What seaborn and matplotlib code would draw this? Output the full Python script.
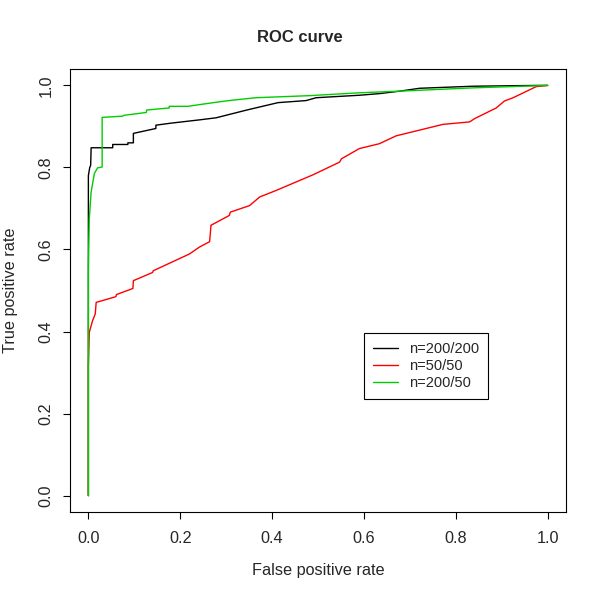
import pandas as pd
import seaborn as sns
import matplotlib.pyplot as plt

# ROC points
fpr_200_200 = [0, 0, 0.003, 0.005, 0.006, 0.053, 0.053, 0.086, 0.086, 0.098, 0.098, 0.147, 0.147,
               0.18, 0.242, 0.278, 0.345, 0.413, 0.474, 0.496, 0.590, 0.634, 0.678, 0.721, 0.837, 0.98, 1.0]
tpr_200_200 = [0, 0.78, 0.80, 0.805, 0.848, 0.848, 0.856, 0.856, 0.860, 0.860, 0.883, 0.895, 0.903,
               0.908, 0.916, 0.921, 0.940, 0.958, 0.963, 0.970, 0.976, 0.980, 0.986, 0.993, 0.998, 1.0, 1.0]

fpr_50_50 = [0, 0, 0.002, 0.009, 0.015, 0.017, 0.060, 0.061, 0.097, 0.098, 0.140, 0.141, 0.220, 0.242,
             0.264, 0.267, 0.307, 0.309, 0.351, 0.373, 0.409, 0.489, 0.547, 0.551, 0.590, 0.634, 0.670,
             0.772, 0.830, 0.841, 0.888, 0.906, 0.925, 0.975, 1.0]
tpr_50_50 = [0, 0.316, 0.398, 0.426, 0.443, 0.471, 0.485, 0.490, 0.505, 0.524, 0.544, 0.548, 0.589, 0.606,
             0.619, 0.659, 0.683, 0.691, 0.707, 0.728, 0.744, 0.782, 0.813, 0.821, 0.846, 0.858, 0.877,
             0.905, 0.911, 0.919, 0.945, 0.962, 0.970, 0.997, 1.0]

fpr_200_50 = [0, 0, 0.001, 0.002, 0.006, 0.013, 0.020, 0.030, 0.030, 0.075, 0.077, 0.126, 0.127, 0.176,
              0.176, 0.216, 0.285, 0.314, 0.365, 0.481, 0.590, 0.678, 0.837, 1.0]
tpr_200_50 = [0, 0.55, 0.62, 0.675, 0.74, 0.785, 0.799, 0.801, 0.922, 0.925, 0.927, 0.934, 0.940, 0.945,
              0.949, 0.949, 0.960, 0.964, 0.970, 0.975, 0.982, 0.986, 0.994, 1.0]

labels = ["n=200/200", "n=50/50", "n=200/50"]
colors = ["black", "#FF0000", "#00CD00"]
tick_vals = [0.0, 0.2, 0.4, 0.6, 0.8, 1.0]

# long-form table for seaborn
roc = pd.concat([
    pd.DataFrame({"fpr": fpr_200_200, "tpr": tpr_200_200, "model": labels[0]}),
    pd.DataFrame({"fpr": fpr_50_50, "tpr": tpr_50_50, "model": labels[1]}),
    pd.DataFrame({"fpr": fpr_200_50, "tpr": tpr_200_50, "model": labels[2]}),
], ignore_index=True)

sns.set_style("ticks")
plt.rcParams["font.family"] = ["Liberation Sans", "DejaVu Sans"]

fig = plt.figure(figsize=(6, 6), dpi=100)
ax = fig.add_axes([70 / 600, 1 - 512 / 600, 496 / 600, 443 / 600])

sns.lineplot(data=roc, x="fpr", y="tpr", hue="model", hue_order=labels,
             palette=colors, sort=False, estimator=None, linewidth=1.0, ax=ax)

ax.set_xlim(-0.04, 1.04)
ax.set_ylim(-0.04, 1.04)
ax.set_xticks(tick_vals)
ax.set_yticks(tick_vals)
ax.set_xticklabels([f"{t:.1f}" for t in tick_vals], fontsize=11.7)
ax.set_yticklabels([f"{t:.1f}" for t in tick_vals], fontsize=11.7, rotation=90, va="center")
ax.tick_params(axis="both", length=5.3, width=0.8, color="black", direction="out")
ax.tick_params(axis="x", pad=8.5)
ax.tick_params(axis="y", pad=6.5)
for s in ax.spines.values():
    s.set_visible(True)
    s.set_color("black")
    s.set_linewidth(0.8)

ax.set_xlabel("False positive rate", fontsize=11.7, va="center")
ax.xaxis.set_label_coords(0.5, (512 - 571) / 443)
ax.set_ylabel("True positive rate", fontsize=11.7, va="center")
ax.yaxis.set_label_coords((11 - 70) / 496, 0.5)
fig.text(0.5, 1 - 37 / 600, "ROC curve", ha="center", va="center", fontsize=12, fontweight="bold")

leg = ax.legend(loc="upper left", bbox_to_anchor=(0.593, 0.404), fontsize=10.5, frameon=True,
                fancybox=False, framealpha=1, edgecolor="black", handlelength=1.7,
                borderpad=0.6, labelspacing=0.23, handletextpad=0.8, borderaxespad=0)
leg.get_frame().set_linewidth(0.8)
for line in leg.get_lines():
    line.set_linewidth(1.0)

fig.savefig("out.png", dpi=100)
